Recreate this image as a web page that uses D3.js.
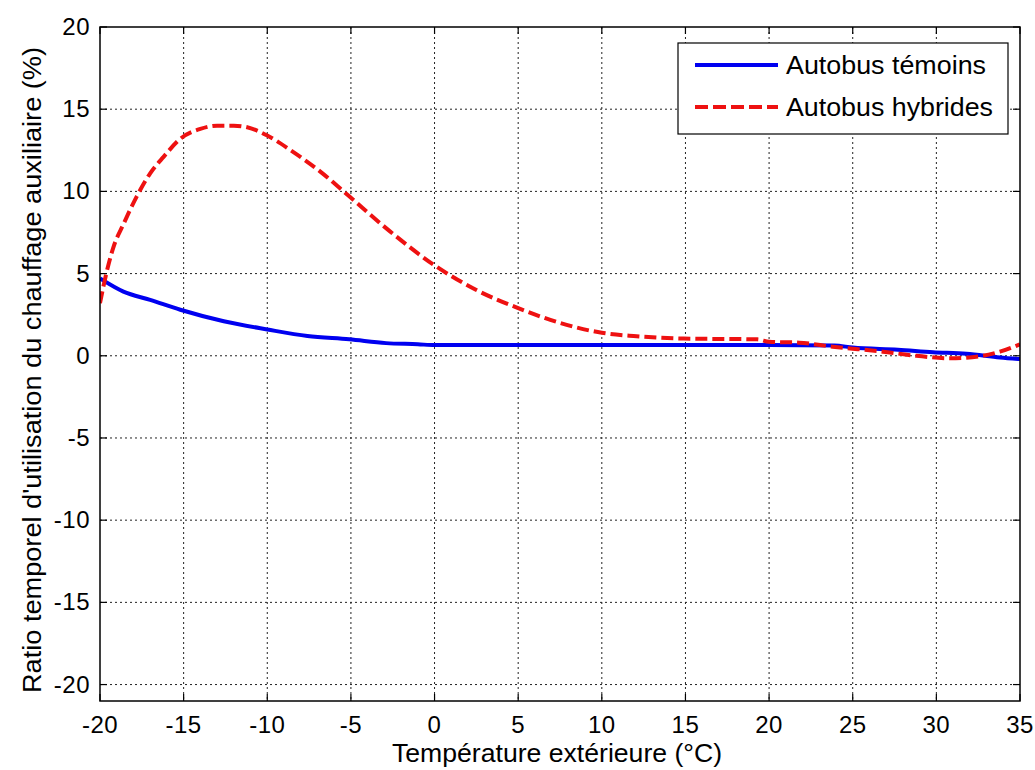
<!DOCTYPE html>
<html>
<head>
<meta charset="utf-8">
<script src="https://cdn.jsdelivr.net/npm/d3@7"></script>
<style>
    body { margin: 0; background: #fff; }
    text { font-family: "Liberation Sans", Arial, sans-serif; fill: #000; }
</style>
</head>
<body>
<svg id="chart" width="1035" height="770"></svg>
<script>
// Series: Autobus témoins (blue, solid)
var temoinsTemp = [-20, -18.6, -17, -15.2, -12.6, -10, -7.6, -5.1, -2.9, -1, 0, 5, 10, 15, 20, 23.9, 25, 27.7, 29.8, 31.8, 33.8, 35];
var temoinsRatio = [4.7, 3.9, 3.4, 2.8, 2.1, 1.6, 1.2, 1.0, 0.77, 0.7, 0.65, 0.65, 0.65, 0.65, 0.65, 0.63, 0.5, 0.37, 0.22, 0.12, -0.1, -0.2];

// Series: Autobus hybrides (red, dashed)
var hybridesTemp = [-20, -19.8, -19.2, -18.6, -17.8, -17, -16.2, -15.2, -14, -13, -12, -11.2, -10, -8.6, -6.7, -5.1, -2.7, 0, 2.5, 5, 7.5, 10, 11.9, 14.9, 19.3, 20, 21.8, 23.8, 26.8, 28.8, 30.8, 32.8, 33.8, 35];
var hybridesRatio = [3.2, 4.2, 6.6, 8.0, 9.7, 11.1, 12.1, 13.2, 13.8, 14.0, 14.0, 13.9, 13.4, 12.5, 11.1, 9.7, 7.6, 5.5, 4.0, 2.9, 2.0, 1.4, 1.2, 1.05, 1.0, 0.85, 0.8, 0.55, 0.25, 0.0, -0.15, 0.0, 0.25, 0.7];

var xTicks = [-20, -15, -10, -5, 0, 5, 10, 15, 20, 25, 30, 35];
var yTicks = [-20, -15, -10, -5, 0, 5, 10, 15, 20];
var legendLabels = ["Autobus témoins", "Autobus hybrides"];

var padding = { top: 27, right: 15, bottom: 69, left: 100 };
var svgWidth = 1035, svgHeight = 770;
var chartWidth = svgWidth - padding.left - padding.right;
var chartHeight = svgHeight - padding.top - padding.bottom;

var svg = d3.select("#chart");
var plot = svg.append("g")
    .attr("transform", `translate(${padding.left}, ${padding.top})`);

var xScale = d3.scaleLinear().domain([-20, 35]).range([0, chartWidth]);
var yScale = d3.scaleLinear().domain([-21, 20]).range([chartHeight, 0]);

// Dotted grid
plot.append("g").selectAll("line")
    .data(xTicks.slice(1, -1))
    .enter().append("line")
    .attr("x1", d => xScale(d)).attr("x2", d => xScale(d))
    .attr("y1", 0).attr("y2", chartHeight)
    .attr("stroke", "#222").attr("stroke-width", 1)
    .attr("stroke-dasharray", "2,3");

plot.append("g").selectAll("line")
    .data(yTicks.slice(0, -1))
    .enter().append("line")
    .attr("x1", 0).attr("x2", chartWidth)
    .attr("y1", d => yScale(d)).attr("y2", d => yScale(d))
    .attr("stroke", "#222").attr("stroke-width", 1)
    .attr("stroke-dasharray", "2,3");

// Inward ticks on all four sides
var tickLen = 7;
var ticks = plot.append("g").attr("stroke", "#000").attr("stroke-width", 1.2);
xTicks.forEach(function(t) {
    ticks.append("line").attr("x1", xScale(t)).attr("x2", xScale(t))
        .attr("y1", chartHeight).attr("y2", chartHeight - tickLen);
    ticks.append("line").attr("x1", xScale(t)).attr("x2", xScale(t))
        .attr("y1", 0).attr("y2", tickLen);
});
yTicks.forEach(function(t) {
    ticks.append("line").attr("y1", yScale(t)).attr("y2", yScale(t))
        .attr("x1", 0).attr("x2", tickLen);
    ticks.append("line").attr("y1", yScale(t)).attr("y2", yScale(t))
        .attr("x1", chartWidth).attr("x2", chartWidth - tickLen);
});

// Tick labels
plot.append("g").selectAll("text")
    .data(xTicks)
    .enter().append("text")
    .attr("x", d => xScale(d))
    .attr("y", chartHeight + 32)
    .attr("text-anchor", "middle")
    .style("font-size", "24px")
    .style("letter-spacing", "0.5px")
    .text(d => d);

plot.append("g").selectAll("text")
    .data(yTicks)
    .enter().append("text")
    .attr("x", -10)
    .attr("y", d => yScale(d) + 8)
    .attr("text-anchor", "end")
    .style("font-size", "24px")
    .style("letter-spacing", "0.5px")
    .text(d => d);

// Lines
var temoinsData = temoinsTemp.map((t, i) => [t, temoinsRatio[i]]);
var hybridesData = hybridesTemp.map((t, i) => [t, hybridesRatio[i]]);

var line = d3.line()
    .x(d => xScale(d[0]))
    .y(d => yScale(d[1]))
    .curve(d3.curveMonotoneX);

svg.append("defs").append("clipPath").attr("id", "plotClip")
    .append("rect").attr("width", chartWidth).attr("height", chartHeight);

plot.append("path")
    .datum(temoinsData)
    .attr("d", line)
    .attr("fill", "none")
    .attr("stroke", "#0000f0")
    .attr("stroke-width", 4)
    .attr("clip-path", "url(#plotClip)");

plot.append("path")
    .datum(hybridesData)
    .attr("d", line)
    .attr("fill", "none")
    .attr("stroke", "#ee1111")
    .attr("stroke-width", 4)
    .attr("stroke-dasharray", "12,5")
    .attr("clip-path", "url(#plotClip)");

// Axes box
plot.append("rect")
    .attr("width", chartWidth).attr("height", chartHeight)
    .attr("fill", "none").attr("stroke", "#000").attr("stroke-width", 1.5);

// Legend
var legend = svg.append("g").attr("transform", "translate(678, 43)");
legend.append("rect")
    .attr("width", 330).attr("height", 91)
    .attr("fill", "#fff").attr("stroke", "#000").attr("stroke-width", 1.2);

var legendStyles = [
    { color: "#0000f0", dash: null, width: 200 },
    { color: "#ee1111", dash: "13,5", width: 207 }
];
legendLabels.forEach(function(label, i) {
    var y = 22 + i * 42;
    legend.append("line")
        .attr("x1", 17).attr("x2", 100)
        .attr("y1", y).attr("y2", y)
        .attr("stroke", legendStyles[i].color)
        .attr("stroke-width", 4)
        .attr("stroke-dasharray", legendStyles[i].dash);
    legend.append("text")
        .attr("x", 108).attr("y", y + 9)
        .attr("textLength", legendStyles[i].width)
        .attr("lengthAdjust", "spacingAndGlyphs")
        .style("font-size", "26px")
        .text(label);
});

// Axis labels
svg.append("text")
    .attr("x", 557)
    .attr("y", 762)
    .attr("text-anchor", "middle")
    .attr("textLength", 330)
    .attr("lengthAdjust", "spacingAndGlyphs")
    .style("font-size", "26px")
    .text("Température extérieure (°C)");

svg.append("text")
    .attr("transform", "translate(41, 370) rotate(-90)")
    .attr("text-anchor", "middle")
    .attr("textLength", 646)
    .attr("lengthAdjust", "spacingAndGlyphs")
    .style("font-size", "25px")
    .text("Ratio temporel d'utilisation du chauffage auxiliaire (%)");
</script>
</body>
</html>
